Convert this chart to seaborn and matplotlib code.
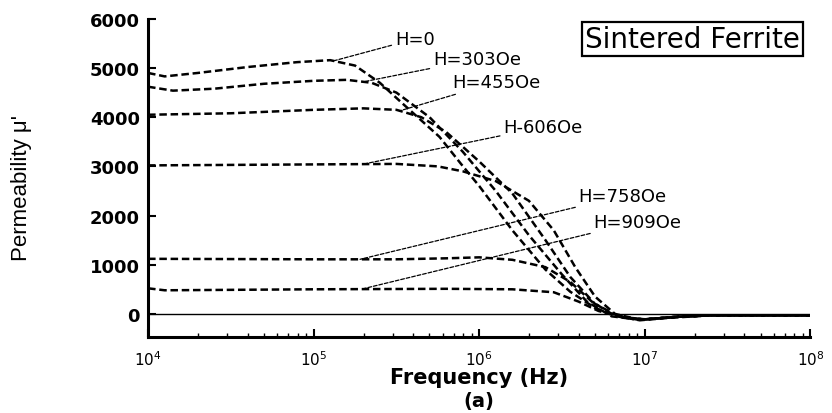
import numpy as np
import pandas as pd
import matplotlib
matplotlib.use("Agg")
import matplotlib.pyplot as plt
import seaborn as sns

# Permeability spectra of sintered ferrite under bias field (log10 frequency, mu')
field_labels = ["H=0", "H=303Oe", "H=455Oe", "H-606Oe", "H=758Oe", "H=909Oe"]

logf_h0 = [4.0, 4.1, 4.3, 4.6, 4.9, 5.1, 5.25, 5.4, 5.52, 5.76, 5.89, 6.0, 6.2, 6.4, 6.55, 6.7, 6.85, 6.97, 7.15, 7.4, 8.0]
mu_h0 = [4900, 4830, 4900, 5020, 5120, 5160, 5050, 4700, 4330, 3600, 3050, 2600, 1700, 900, 450, 120, -60, -130, -80, -30, -30]

logf_h303 = [4.0, 4.15, 4.4, 4.7, 5.0, 5.2, 5.35, 5.5, 5.7, 5.9, 6.1, 6.3, 6.5, 6.65, 6.8, 6.97, 7.2, 7.4, 8.0]
mu_h303 = [4620, 4540, 4580, 4680, 4740, 4760, 4700, 4500, 4000, 3300, 2500, 1600, 800, 250, -50, -120, -60, -30, -30]

logf_h455 = [4.0, 4.5, 5.0, 5.3, 5.5, 5.65, 5.8, 6.0, 6.2, 6.4, 6.55, 6.7, 6.85, 7.0, 7.2, 7.4, 8.0]
mu_h455 = [4050, 4080, 4150, 4180, 4150, 4000, 3700, 3100, 2450, 1500, 750, 200, -60, -110, -60, -30, -30]

logf_h606 = [4.0, 5.0, 5.5, 5.75, 5.9, 6.1, 6.3, 6.45, 6.58, 6.7, 6.82, 6.97, 7.2, 7.4, 8.0]
mu_h606 = [3020, 3040, 3050, 3000, 2900, 2700, 2300, 1700, 950, 350, 0, -120, -60, -30, -30]

logf_h758 = [4.0, 5.0, 5.5, 5.8, 6.0, 6.2, 6.4, 6.55, 6.68, 6.8, 6.95, 7.2, 7.4, 8.0]
mu_h758 = [1120, 1110, 1110, 1130, 1150, 1100, 950, 650, 250, 0, -120, -60, -30, -30]

logf_h909 = [4.0, 4.1, 5.0, 5.8, 6.2, 6.45, 6.6, 6.72, 6.85, 7.0, 7.2, 7.4, 8.0]
mu_h909 = [520, 480, 500, 510, 500, 440, 250, 60, -60, -110, -50, -30, -30]

x_ticks = [1e4, 1e5, 1e6, 1e7, 1e8]
x_tick_labels = [r"$10^4$", r"$10^5$", r"$10^6$", r"$10^7$", r"$10^8$"]
y_ticks = [0, 1000, 2000, 3000, 4000, 5000, 6000]

series = [
    (logf_h0, mu_h0),
    (logf_h303, mu_h303),
    (logf_h455, mu_h455),
    (logf_h606, mu_h606),
    (logf_h758, mu_h758),
    (logf_h909, mu_h909),
]

frames = []
for label, (lf, mu) in zip(field_labels, series):
    frames.append(pd.DataFrame({"freq": 10.0 ** np.asarray(lf), "mu": mu, "field": label}))
df = pd.concat(frames, ignore_index=True)

sns.set_style("ticks")
plt.rcParams["font.family"] = ["DejaVu Sans"]
plt.rcParams["mathtext.fontset"] = "dejavusans"
plt.rcParams.update({
    "text.color": "black",
    "axes.labelcolor": "black",
    "axes.edgecolor": "black",
    "xtick.color": "black",
    "ytick.color": "black",
})

fig = plt.figure(figsize=(8.32, 4.14), dpi=100)
ax = fig.add_axes([0.178, 0.1836, 0.796, 0.7684])

sns.lineplot(data=df, x="freq", y="mu", hue="field", hue_order=field_labels,
             palette=["black"] * 6, ax=ax, legend=False, linewidth=1.8,
             sort=False, estimator=None)
for line in ax.get_lines():
    line.set_linestyle((0, (3, 1.5)))

ax.axhline(0, color="black", linewidth=1.0)

ax.set_xscale("log")
ax.set_xlim(1e4, 1e8)
ax.set_ylim(-470, 6000)
ax.set_xticks(x_ticks)
ax.set_xticklabels(x_tick_labels)
ax.set_yticks(y_ticks)
ax.tick_params(axis="both", which="major", direction="in", length=6, width=1.5)
ax.tick_params(axis="x", which="major", labelsize=11, pad=9)
ax.tick_params(axis="y", which="major", labelsize=13, pad=6)
ax.tick_params(axis="x", which="minor", direction="in", length=3, width=1.0)
ax.tick_params(axis="y", which="minor", left=False)
for lbl in ax.get_yticklabels():
    lbl.set_fontweight("bold")
sns.despine(ax=ax)
ax.spines["left"].set_linewidth(2.2)
ax.spines["bottom"].set_linewidth(2.2)

# Leader lines from each curve to its field label
leaders = [
    ("H=0", logf_h0, mu_h0, 5.12, (10 ** 5.49, 5590)),
    ("H=303Oe", logf_h303, mu_h303, 5.30, (10 ** 5.72, 5180)),
    ("H=455Oe", logf_h455, mu_h455, 5.52, (10 ** 5.84, 4715)),
    ("H-606Oe", logf_h606, mu_h606, 5.30, (10 ** 6.145, 3800)),
    ("H=758Oe", logf_h758, mu_h758, 5.28, (10 ** 6.60, 2400)),
    ("H=909Oe", logf_h909, mu_h909, 5.29, (10 ** 6.69, 1870)),
]
for text, lf, mu, at, pos in leaders:
    y0 = np.interp(at, lf, mu)
    ax.annotate(text, xy=(10 ** at, y0), xytext=pos, textcoords="data",
                fontsize=13, va="center", ha="left",
                arrowprops=dict(arrowstyle="-", color="black", lw=0.9,
                                linestyle=(0, (3, 1.5)), shrinkA=0, shrinkB=0))

ax.text(0.984, 0.937, "Sintered Ferrite", transform=ax.transAxes, ha="right",
        va="center", fontsize=20,
        bbox=dict(boxstyle="square,pad=0.1", facecolor="white",
                  edgecolor="black", linewidth=1.6))

ax.set_xlabel("Frequency (Hz)", fontsize=15, fontweight="bold")
ax.xaxis.set_label_coords(0.5, -0.095)
fig.text(0.5 * (0.178 + 0.974), 1 - 402 / 414, "(a)", ha="center", va="center",
         fontsize=14, fontweight="bold")

ax.set_ylabel("Permeability \u03bc'", fontsize=16, family=["Liberation Sans", "DejaVu Sans"])
ax.yaxis.set_label_coords(-0.175, 0.47)

fig.savefig("out.png", dpi=100)
